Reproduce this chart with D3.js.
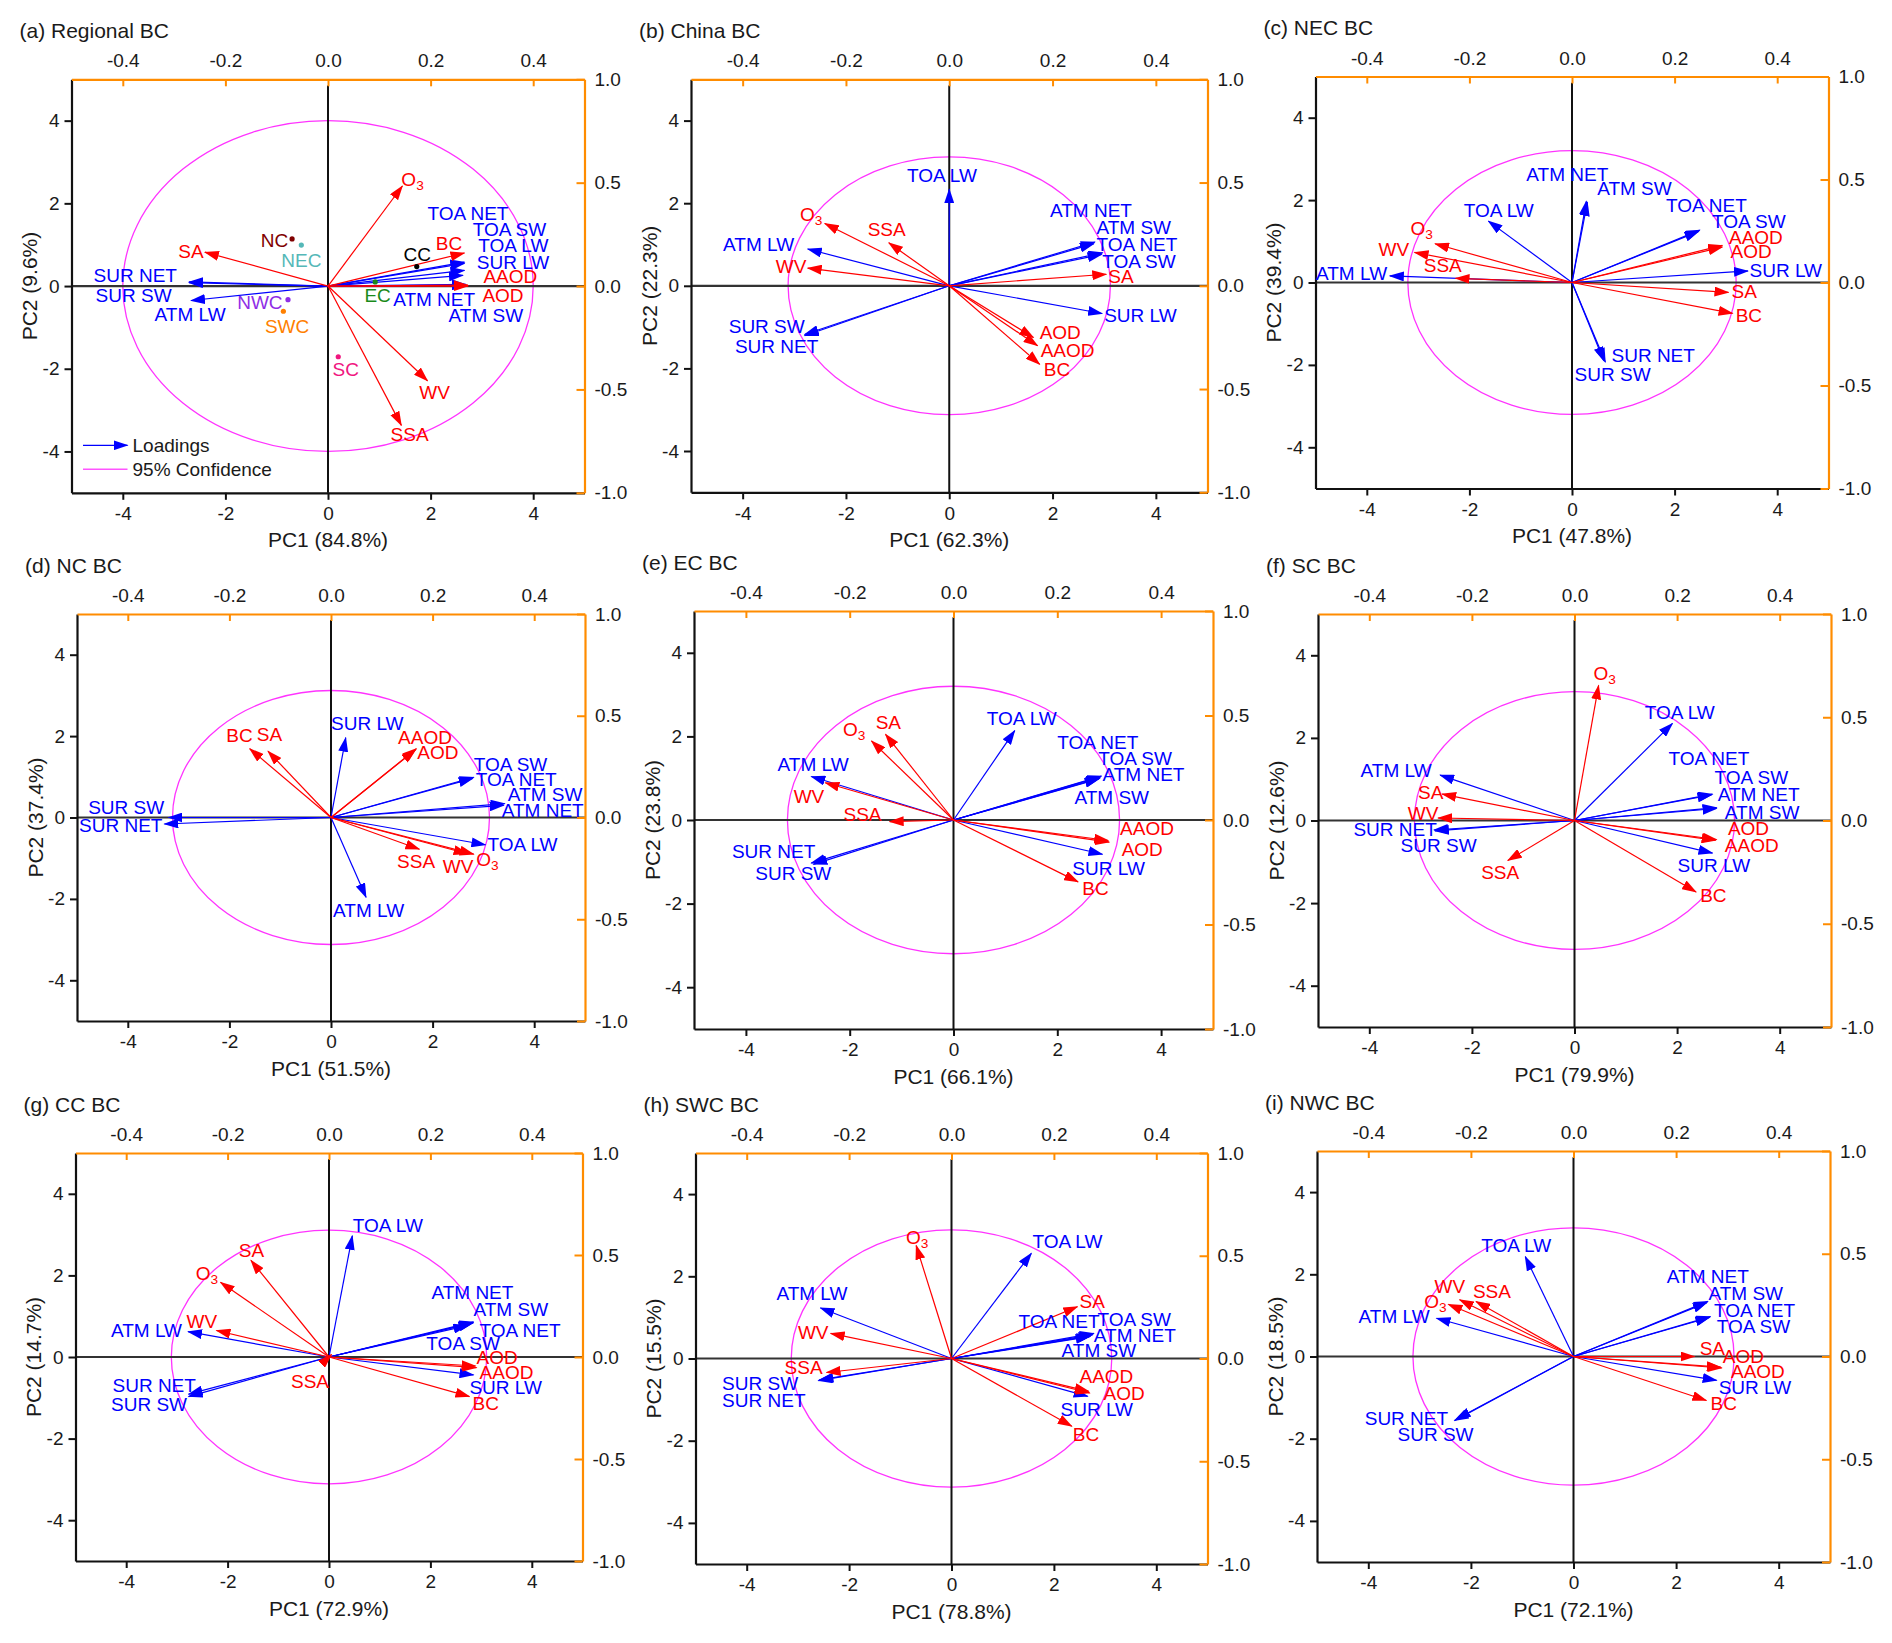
<!DOCTYPE html>
<html><head><meta charset="utf-8">
<script src="https://cdn.jsdelivr.net/npm/d3@7"></script>
<style>
body{margin:0;background:#fff}
text{font-family:"Liberation Sans",Arial,Helvetica,sans-serif}
</style>
</head><body>
<svg id="chart" width="1892" height="1643"></svg>
<script>
// ---------------- DATA ----------------
const panelTitles = ["(a) Regional BC","(b) China BC","(c) NEC BC","(d) NC BC","(e) EC BC","(f) SC BC","(g) CC BC","(h) SWC BC","(i) NWC BC"];
const pc1Pct = [84.8, 62.3, 47.8, 51.5, 66.1, 79.9, 72.9, 78.8, 72.1];
const pc2Pct = [9.6, 22.3, 39.4, 37.4, 23.8, 12.6, 14.7, 15.5, 18.5];
const confRadius = [4.0, 3.12, 3.2, 3.12, 3.2, 3.12, 3.11, 3.13, 3.13];

const variables = ["TOA NET","TOA SW","TOA LW","ATM NET","ATM SW","ATM LW","SUR NET","SUR SW","SUR LW","BC","AOD","AAOD","SSA","SA","WV","O3"];
const varGroup  = ["rad","rad","rad","rad","rad","rad","rad","rad","rad","aer","aer","aer","aer","aer","aer","aer"];

const bottomTicks = [-4,-2,0,2,4];
const leftTicks = [-4,-2,0,2,4];
const topTicks = [-0.4,-0.2,0.0,0.2,0.4];
const rightTicks = [-1.0,-0.5,0.0,0.5,1.0];

// arrow tips (PC1, PC2 score units), in the order of `variables`
const loadA = [[2.66,0.58],[2.66,0.55],[2.66,0.38],[2.69,0.04],[2.69,0.02],[-2.67,-0.35],[-2.71,0.10],[-2.71,0.08],[2.63,0.26],[2.66,0.80],[2.73,0.00],[2.73,0.02],[1.43,-3.37],[-2.40,0.82],[1.94,-2.29],[1.45,2.42]];
const loadB = [[2.97,0.80],[2.95,0.76],[0.00,2.34],[2.82,1.06],[2.80,1.02],[-2.74,0.89],[-2.80,-1.21],[-2.80,-1.18],[2.96,-0.67],[1.75,-1.90],[1.63,-1.25],[1.71,-1.45],[-1.17,1.04],[3.04,0.28],[-2.74,0.43],[-2.41,1.51]];
const loadC = [[2.49,1.27],[2.47,1.24],[-1.63,1.49],[0.28,1.97],[0.30,1.95],[-3.55,0.16],[0.65,-1.93],[0.62,-1.90],[3.43,0.28],[3.13,-0.75],[2.93,0.86],[2.93,0.90],[-2.27,0.10],[3.05,-0.24],[-3.07,0.73],[-2.67,0.94]];
const loadD = [[2.81,0.99],[2.79,0.96],[3.04,-0.67],[3.40,0.30],[3.42,0.34],[0.69,-1.96],[-3.28,-0.16],[-3.20,0.00],[0.29,1.96],[-1.60,1.69],[1.66,1.66],[1.68,1.69],[1.74,-0.78],[-1.24,1.63],[2.69,-0.89],[2.81,-0.90]];
const loadE = [[2.85,1.05],[2.83,1.03],[1.18,2.14],[2.82,1.00],[2.80,0.98],[-2.74,1.04],[-2.74,-1.03],[-2.70,-1.06],[2.87,-0.82],[2.40,-1.48],[3.00,-0.53],[2.98,-0.49],[-1.23,-0.04],[-1.31,2.05],[-2.47,0.89],[-1.58,1.89]];
const loadF = [[2.69,0.64],[2.67,0.62],[1.91,2.35],[2.77,0.31],[2.77,0.29],[-2.62,1.10],[-2.74,-0.23],[-2.72,-0.25],[2.69,-0.79],[2.37,-1.73],[2.77,-0.46],[2.75,-0.48],[-1.30,-0.97],[-2.58,0.64],[-2.66,0.06],[0.47,3.27]];
const loadG = [[2.85,0.84],[2.73,0.77],[0.46,2.97],[2.85,0.86],[2.83,0.83],[-2.78,0.62],[-2.77,-0.91],[-2.77,-0.97],[2.85,-0.44],[2.77,-0.97],[2.89,-0.22],[2.91,-0.26],[0.05,0.06],[-1.54,2.37],[-2.22,0.65],[-2.14,1.83]];
const loadH = [[2.70,0.53],[2.78,0.61],[1.56,2.56],[2.76,0.58],[2.72,0.55],[-2.56,1.23],[-2.58,-0.52],[-2.60,-0.54],[2.66,-0.92],[2.35,-1.65],[2.70,-0.84],[2.68,-0.80],[-2.44,-0.34],[2.46,1.26],[-2.36,0.61],[-0.69,2.75]];
const loadI = [[2.67,0.97],[2.65,0.95],[-0.94,2.43],[2.62,1.34],[2.60,1.31],[-2.67,0.93],[-2.28,-1.52],[-2.32,-1.56],[2.79,-0.58],[2.59,-1.07],[2.87,-0.26],[2.89,-0.28],[-1.90,1.34],[2.36,0.00],[-2.22,1.38],[-2.44,1.27]];

// label anchor points (left edge, mid height), score units
const labA = [[1.94,1.75],[2.82,1.37],[2.93,0.99],[1.27,-0.33],[2.35,-0.72],[-3.38,-0.69],[-4.57,0.26],[-4.53,-0.23],[2.90,0.58],[2.10,1.04],[3.01,-0.22],[3.03,0.22],[1.22,-3.59],[-2.92,0.84],[1.78,-2.57],[1.43,2.60]];
const labB = [[2.85,1.01],[2.96,0.58],[-0.82,2.66],[1.95,1.82],[2.85,1.41],[-4.38,1.01],[-4.15,-1.47],[-4.27,-0.99],[3.00,-0.72],[1.83,-2.03],[1.75,-1.12],[1.77,-1.56],[-1.58,1.37],[3.08,0.22],[-3.36,0.46],[-2.89,1.73]];
const labC = [[1.83,1.88],[2.73,1.47],[-2.11,1.75],[-0.89,2.63],[0.49,2.27],[-4.99,0.21],[0.77,-1.78],[0.05,-2.24],[3.46,0.28],[3.19,-0.81],[3.09,0.75],[3.06,1.10],[-2.89,0.41],[3.11,-0.23],[-3.77,0.80],[-3.15,1.32]];
const labD = [[2.85,0.93],[2.81,1.29],[3.08,-0.67],[3.36,0.18],[3.48,0.56],[0.04,-2.28],[-4.96,-0.19],[-4.78,0.24],[0.00,2.30],[-2.06,2.01],[1.70,1.59],[1.32,1.96],[1.30,-1.07],[-1.46,2.05],[2.20,-1.20],[2.86,-1.03]];
const labE = [[2.00,1.85],[2.79,1.48],[0.64,2.44],[2.87,1.09],[2.33,0.55],[-3.39,1.33],[-4.27,-0.76],[-3.82,-1.27],[2.29,-1.15],[2.48,-1.64],[3.24,-0.70],[3.21,-0.21],[-2.12,0.14],[-1.50,2.34],[-3.08,0.57],[-2.13,2.18]];
const labF = [[1.83,1.50],[2.73,1.03],[1.37,2.62],[2.79,0.62],[2.93,0.20],[-4.17,1.20],[-4.31,-0.23],[-3.39,-0.61],[2.01,-1.09],[2.45,-1.82],[2.99,-0.19],[2.93,-0.61],[-1.82,-1.25],[-3.05,0.67],[-3.25,0.18],[0.37,3.56]];
const labG = [[2.97,0.66],[1.92,0.34],[0.47,3.22],[2.02,1.57],[2.85,1.16],[-4.30,0.66],[-4.27,-0.69],[-4.30,-1.17],[2.77,-0.74],[2.83,-1.13],[2.91,0.00],[2.97,-0.37],[-0.75,-0.59],[-1.78,2.62],[-2.81,0.88],[-2.63,2.06]];
const labH = [[1.31,0.90],[2.85,0.96],[1.58,2.84],[2.78,0.56],[2.15,0.19],[-3.42,1.57],[-4.48,-1.02],[-4.48,-0.62],[2.13,-1.25],[2.37,-1.84],[2.97,-0.85],[2.50,-0.43],[-3.26,-0.22],[2.50,1.38],[-3.00,0.63],[-0.89,2.96]];
const labI = [[2.74,1.11],[2.79,0.72],[-1.80,2.71],[1.82,1.94],[2.63,1.53],[-4.19,0.98],[-4.07,-1.52],[-3.43,-1.89],[2.83,-0.75],[2.67,-1.14],[2.91,0.00],[3.07,-0.37],[-1.96,1.57],[2.46,0.19],[-2.71,1.71],[-2.91,1.36]];

const loadings = [loadA, loadB, loadC, loadD, loadE, loadF, loadG, loadH, loadI];
const labelPts = [labA, labB, labC, labD, labE, labF, labG, labH, labI];

// regional scores in panel (a)
const regions = ["NC","NEC","CC","EC","NWC","SWC","SC"];
const regionScores = [[-0.70,1.14],[-0.52,0.99],[1.73,0.47],[0.92,0.10],[-0.78,-0.33],[-0.87,-0.61],[0.20,-1.71]];
const regionLabelPts = [[-1.31,1.11],[-0.91,0.62],[1.47,0.76],[0.71,-0.24],[-1.77,-0.39],[-1.23,-0.97],[0.09,-2.03]];

// ---------------- STYLE / LAYOUT ----------------
const panelBox = [
  [71.5,79.3,513,413.5],[691,79.3,516.5,413],[1315.5,76.5,513,412],
  [77,614,508,407],[694,611,519,418],[1318,614,513,413],
  [75.5,1153,507,408],[695.5,1153,512,411],[1317,1151,513,411]
];
const groupColor = {rad:"#0000ff", aer:"#ff0000"};
const regionColor = ["#800000","#55b8b8","#000000","#1a8a1a","#8f2ee6","#ff8000","#f0167f"];
const ORANGE = "#ff8c00";
const INK = "#1a1a1a";
const FS_TICK = 19, FS_LAB = 19, FS_TITLE = 21;

const hy = f => d => f(d).replace("\u2212","-");

const svg = d3.select("#chart");
svg.append("rect").attr("width",1892).attr("height",1643).attr("fill","#fff");

const defs = svg.append("defs");
Object.entries(groupColor).forEach(([k,c])=>{
  defs.append("marker").attr("id","head-"+k)
    .attr("markerUnits","userSpaceOnUse").attr("markerWidth",15).attr("markerHeight",10)
    .attr("refX",14).attr("refY",5).attr("orient","auto")
    .append("path").attr("d","M0,0 L15,5 L0,10 Z").attr("fill",c);
});

function label(g, x, y, txt, color){
  const t = g.append("text").attr("x",x).attr("y",y).attr("dominant-baseline","central")
    .attr("font-size",FS_LAB).attr("fill",color);
  if (txt === "O3") {
    t.append("tspan").text("O");
    t.append("tspan").text("3").attr("font-size",FS_LAB*0.72).attr("dy",6);
  } else t.text(txt);
  return t;
}

panelTitles.forEach((title, p)=>{
  const [L,T,W,H] = panelBox[p];
  const x = d3.scaleLinear().domain([-5,5]).range([L, L+W]);
  const y = d3.scaleLinear().domain([-5,5]).range([T+H, T]);
  const xTop = d3.scaleLinear().domain([-0.5,0.5]).range([L, L+W]);
  const yRight = d3.scaleLinear().domain([-1,1]).range([T+H, T]);
  const g = svg.append("g");

  // title
  g.append("text").attr("x",L-52).attr("y",T-49).attr("dominant-baseline","central")
    .attr("font-size",FS_TITLE).attr("fill",INK).text(title);

  // confidence ellipse
  g.append("ellipse").attr("cx",x(0)).attr("cy",y(0))
    .attr("rx",x(confRadius[p])-x(0)).attr("ry",y(0)-y(confRadius[p]))
    .attr("fill","none").attr("stroke","#ff33ff").attr("stroke-width",1.3);

  // zero lines
  g.append("line").attr("x1",x(0)).attr("x2",x(0)).attr("y1",y(4.85)).attr("y2",y(-5))
    .attr("stroke","#111").attr("stroke-width",2);
  g.append("line").attr("x1",x(-5)).attr("x2",x(5)).attr("y1",y(0)).attr("y2",y(0))
    .attr("stroke","#333").attr("stroke-width",2.2);

  const ax = (sel)=>{ sel.selectAll("text").attr("font-size",FS_TICK).attr("fill",INK).attr("font-family",null);
    sel.selectAll("line").attr("stroke-width",2); sel.select(".domain").attr("stroke-width",2.2); };

  // bottom & left axes (black, outward ticks)
  g.append("g").attr("transform",`translate(0,${T+H})`)
    .call(d3.axisBottom(x).tickValues(bottomTicks).tickSize(7).tickSizeOuter(0).tickPadding(7).tickFormat(hy(d3.format("d"))))
    .call(ax).call(s=>s.selectAll("path,line").attr("stroke","#111"));
  g.append("g").attr("transform",`translate(${L},0)`)
    .call(d3.axisLeft(y).tickValues(leftTicks).tickSize(7).tickSizeOuter(0).tickPadding(5).tickFormat(hy(d3.format("d"))))
    .call(ax).call(s=>s.selectAll("path,line").attr("stroke","#111"));

  // top & right axes (orange, inward ticks)
  g.append("g").attr("transform",`translate(0,${T})`)
    .call(d3.axisTop(xTop).tickValues(topTicks).tickSize(-7).tickSizeOuter(0).tickPadding(12).tickFormat(hy(d3.format(".1f"))))
    .call(ax).call(s=>s.selectAll("path,line").attr("stroke",ORANGE));
  g.append("g").attr("transform",`translate(${L+W},0)`)
    .call(d3.axisRight(yRight).tickValues(rightTicks).tickSize(-8).tickSizeOuter(0).tickPadding(10).tickFormat(hy(d3.format(".1f"))))
    .call(ax).call(s=>s.selectAll("path,line").attr("stroke",ORANGE));

  // axis titles
  g.append("text").attr("x",(L+L+W)/2 ).attr("y",T+H+47).attr("text-anchor","middle")
    .attr("dominant-baseline","central").attr("font-size",FS_TITLE).attr("fill",INK)
    .text(`PC1 (${pc1Pct[p]}%)`);
  g.append("text").attr("transform",`translate(${L-42},${T+H/2}) rotate(-90)`)
    .attr("text-anchor","middle").attr("dominant-baseline","central")
    .attr("font-size",FS_TITLE).attr("fill",INK).text(`PC2 (${pc2Pct[p]}%)`);

  // loading arrows: blue first, then red
  const order = d3.range(variables.length).sort((a,b)=> (varGroup[a]==="rad"?0:1)-(varGroup[b]==="rad"?0:1));
  order.forEach(i=>{
    const [vx,vy] = loadings[p][i];
    g.append("line").attr("x1",x(0)).attr("y1",y(0)).attr("x2",x(vx)).attr("y2",y(vy))
      .attr("stroke",groupColor[varGroup[i]]).attr("stroke-width",1.2)
      .attr("marker-end",`url(#head-${varGroup[i]})`);
  });

  // region scores (panel a only)
  if (p === 0) {
    regions.forEach((r,k)=>{
      g.append("circle").attr("cx",x(regionScores[k][0])).attr("cy",y(regionScores[k][1]))
        .attr("r",2.6).attr("fill",regionColor[k]);
      label(g, x(regionLabelPts[k][0]), y(regionLabelPts[k][1]), r, regionColor[k]);
    });
    // legend
    const ly1 = T+366, ly2 = T+390;
    g.append("line").attr("x1",L+11.5).attr("x2",L+56).attr("y1",ly1).attr("y2",ly1)
      .attr("stroke",groupColor.rad).attr("stroke-width",1.2).attr("marker-end","url(#head-rad)");
    g.append("text").attr("x",L+61).attr("y",ly1).attr("dominant-baseline","central")
      .attr("font-size",FS_LAB).attr("fill",INK).text("Loadings");
    g.append("line").attr("x1",L+11.5).attr("x2",L+56).attr("y1",ly2).attr("y2",ly2)
      .attr("stroke","#ff55ff").attr("stroke-width",1.5);
    g.append("text").attr("x",L+61).attr("y",ly2).attr("dominant-baseline","central")
      .attr("font-size",FS_LAB).attr("fill",INK).text("95% Confidence");
  }

  // variable labels
  variables.forEach((v,i)=>{
    const [lx,ly] = labelPts[p][i];
    label(g, x(lx), y(ly), v, groupColor[varGroup[i]]);
  });
});
</script>
</body></html>
